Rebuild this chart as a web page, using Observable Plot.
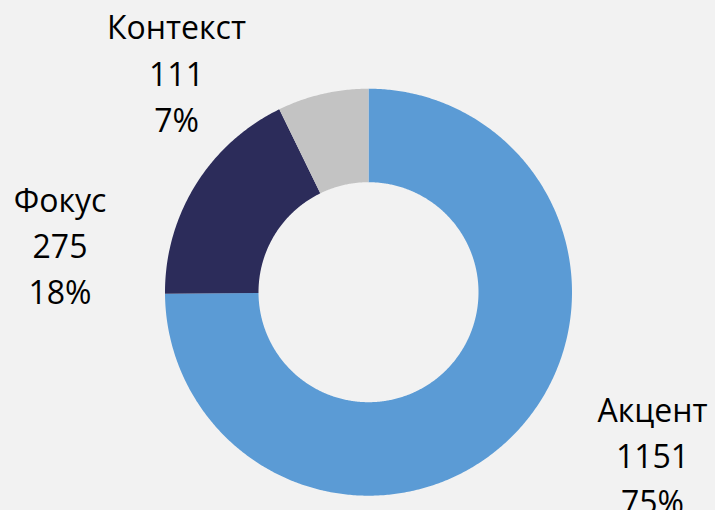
<!DOCTYPE html>
<html>
<head>
<meta charset="utf-8">
<script src="https://cdn.jsdelivr.net/npm/d3@7"></script>
<script src="https://cdn.jsdelivr.net/npm/@observablehq/plot@0.6"></script>
<style>
  html, body { margin: 0; padding: 0; background: #f2f2f2; }
  #chart { width: 715px; height: 510px; }
</style>
</head>
<body>
<div id="chart"></div>
<script>
// Data
const categories = ["Акцент", "Фокус", "Контекст"];
const values = [1151, 275, 111];
const colors = ["#5b9bd5", "#2c2c5a", "#c3c3c3"];
// Label anchor positions (pixels relative to the donut centre, y up)
const labelX = [284, -308.5, -192];
const labelY = [-161.4, 48.6, 221.4];

const W = 715, H = 510;
const cx = 368, cy = 291.7;
const rOuter = 203.5, rInner = 110;

const total = d3.sum(values);
const pie = d3.pie().sort(null).value(d => d)(values);

// Polygon points for each slice (angles clockwise from 12 o'clock)
const pts = [];
pie.forEach((p, i) => {
  const a0 = p.startAngle, a1 = p.endAngle;
  const n = Math.max(2, Math.ceil((a1 - a0) / (Math.PI / 360)));
  for (let k = 0; k <= n; k++) {
    const a = a0 + (a1 - a0) * k / n;
    pts.push({cat: categories[i], x: rOuter * Math.sin(a), y: rOuter * Math.cos(a)});
  }
  for (let k = n; k >= 0; k--) {
    const a = a0 + (a1 - a0) * k / n;
    pts.push({cat: categories[i], x: rInner * Math.sin(a), y: rInner * Math.cos(a)});
  }
});

const labels = categories.map((c, i) => ({
  x: labelX[i], y: labelY[i],
  text: `${c}\n${values[i]}\n${Math.round(values[i] / total * 100)}%`
}));

const chart = Plot.plot({
  width: W, height: H,
  margin: 0,
  style: {background: "#f2f2f2", overflow: "visible"},
  x: {domain: [-cx, W - cx], range: [0, W], axis: null},
  y: {domain: [-(H - cy), cy], range: [H, 0], axis: null},
  color: {domain: categories, range: colors},
  marks: [
    Plot.line(pts, {x: "x", y: "y", z: "cat", fill: "cat", stroke: null, curve: "linear-closed"}),
    Plot.text(labels, {
      x: "x", y: "y", text: "text",
      fontSize: 32, lineHeight: 1.44, lineAnchor: "middle",
      fill: "#000", fontFamily: "'Open Sans', sans-serif"
    })
  ]
});
document.getElementById("chart").appendChild(chart);
</script>
</body>
</html>
